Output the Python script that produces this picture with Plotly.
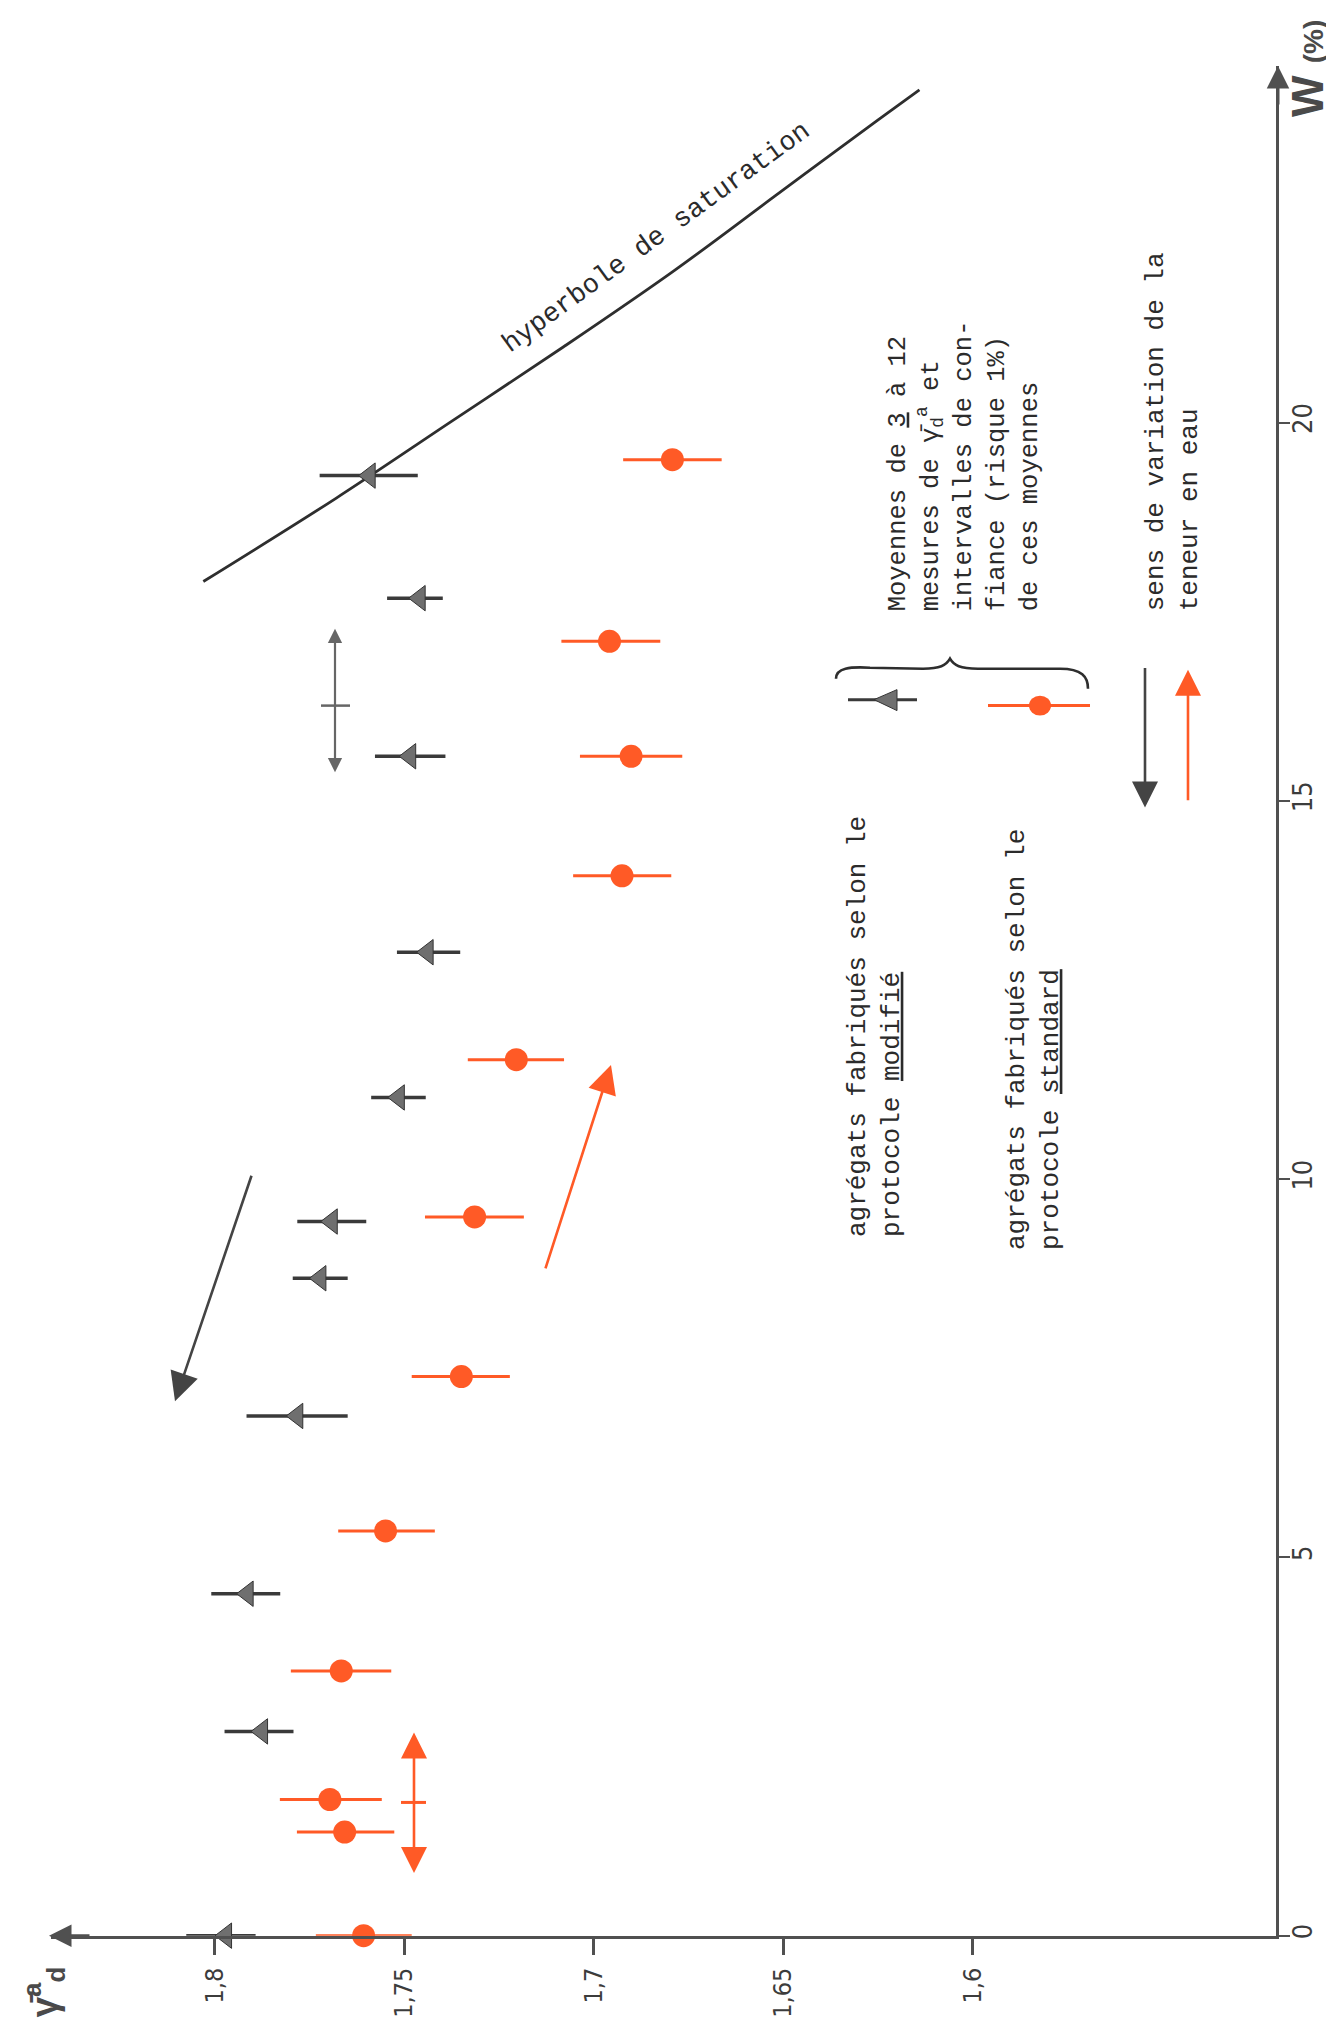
import plotly.graph_objects as go

# ---------------- data ----------------
# modified protocol (grey triangles): water content W (%), mean dry density and CI bounds
W_MOD = [0.0, 2.70, 4.52, 6.87, 8.69, 9.44, 11.08, 13.00, 15.59, 17.68, 19.30]
G_MOD = [1.7970, 1.7875, 1.7913, 1.7782, 1.7721, 1.7691, 1.7514, 1.7438, 1.7484, 1.7459, 1.7591]
G_MOD_HI = [1.8075, 1.7974, 1.8009, 1.7916, 1.7794, 1.7782, 1.7587, 1.7519, 1.7577, 1.7545, 1.7723]
G_MOD_LO = [1.7892, 1.7792, 1.7827, 1.7649, 1.7649, 1.7600, 1.7443, 1.7352, 1.7391, 1.7398, 1.7464]

# standard protocol (orange circles)
W_STD = [0.0, 1.37, 1.80, 3.50, 5.35, 7.39, 9.50, 11.58, 14.01, 15.59, 17.11, 19.51]
G_STD = [1.7607, 1.7657, 1.7696, 1.7666, 1.7549, 1.7349, 1.7314, 1.7204, 1.6925, 1.6901, 1.6958, 1.6792]
G_STD_HI = [1.7733, 1.7783, 1.7828, 1.7799, 1.7674, 1.7480, 1.7445, 1.7332, 1.7054, 1.7036, 1.7085, 1.6922]
G_STD_LO = [1.7480, 1.7526, 1.7559, 1.7534, 1.7419, 1.7221, 1.7184, 1.7078, 1.6795, 1.6766, 1.6824, 1.6662]

# saturation hyperbola
W_SAT = [17.9, 19.0, 20.0, 21.0, 22.0, 23.0, 24.0, 24.4]
G_SAT = [1.803, 1.768, 1.738, 1.708, 1.679, 1.652, 1.625, 1.614]

# axis ticks
G_TICKS = [1.8, 1.75, 1.7, 1.65, 1.6]
G_TICKTEXT = ["1,8", "1,75", "1,7", "1,65", "1,6"]
W_TICKS = [0, 5, 10, 15, 20]

# ---------------- styling ----------------
WPX, HPX = 1334, 2018
ORANGE = "#ff5a26"
GREY = "#6f6f6f"
DARK = "#3a3a3a"
AXC = "#505050"
MONO = "Liberation Mono, DejaVu Sans Mono, monospace"
NARROW = "Liberation Sans Narrow, DejaVu Sans Condensed, Roboto Condensed, Liberation Sans, sans-serif"


def P(x, y):
    return x / WPX, 1 - y / HPX


def err(mean, hi, lo):
    plus = [h - m for h, m in zip(hi, mean)]
    minus = [m - l for m, l in zip(mean, lo)]
    return plus, minus


fig = go.Figure()

# hyperbola
fig.add_trace(go.Scatter(x=G_SAT, y=W_SAT, mode="lines",
                         line=dict(color="#2e2e2e", width=2.8, shape="spline"),
                         showlegend=False, hoverinfo="skip"))

p, m = err(G_STD, G_STD_HI, G_STD_LO)
fig.add_trace(go.Scatter(x=G_STD, y=W_STD, mode="markers",
                         marker=dict(symbol="circle", size=23, color=ORANGE),
                         error_x=dict(type="data", array=p, arrayminus=m, symmetric=False,
                                      color=ORANGE, thickness=3, width=0),
                         cliponaxis=False, showlegend=False))

p, m = err(G_MOD, G_MOD_HI, G_MOD_LO)
fig.add_trace(go.Scatter(x=G_MOD, y=W_MOD, mode="markers",
                         marker=dict(symbol="triangle-left", size=22, color=GREY,
                                     line=dict(color="#333333", width=1)),
                         error_x=dict(type="data", array=p, arrayminus=m, symmetric=False,
                                      color=DARK, thickness=3.5, width=0),
                         cliponaxis=False, showlegend=False))

x0, x1 = 43, 1268          # pixel extent of gamma axis
y0, y1 = 1931.5, 58        # pixel extent of W axis
fig.update_layout(
    width=WPX, height=HPX, margin=dict(l=0, r=0, t=0, b=0),
    paper_bgcolor="white", plot_bgcolor="white",
    xaxis=dict(domain=[x0 / WPX, x1 / WPX], range=[1.8432, 1.5199],
               showgrid=False, zeroline=False, showline=True, linecolor=AXC, linewidth=3,
               tickvals=G_TICKS, ticktext=G_TICKTEXT, ticks="outside", ticklen=16,
               tickwidth=3, tickcolor=AXC, tickangle=-90, ticklabelstandoff=3,
               tickfont=dict(family=NARROW, size=25, color="#3c3c3c")),
    yaxis=dict(domain=[1 - y0 / HPX, 1 - y1 / HPX], range=[0, 24.716], side="right",
               showgrid=False, zeroline=False, showline=True, linecolor=AXC, linewidth=3,
               tickvals=W_TICKS, ticks="outside", ticklen=11, tickwidth=2, tickcolor=AXC,
               tickangle=-90, ticklabelstandoff=-10,
               tickfont=dict(family=NARROW, size=27, color="#3c3c3c")),
)

ann = []
shapes = []


def arrow(tip, tail, color, width=3, head=2, size=1.6, side="end"):
    x, y = P(*tip)
    ann.append(dict(x=x, y=y, xref="paper", yref="paper", text="", showarrow=True,
                    ax=tail[0] - tip[0], ay=tail[1] - tip[1], axref="pixel", ayref="pixel",
                    arrowcolor=color, arrowwidth=width, arrowhead=head, arrowsize=size,
                    startarrowhead=head, startarrowsize=size, arrowside=side))


def text(x, y, t, size=26, angle=-90, xanchor="center", yanchor="bottom", font=MONO,
         color="#2b2b2b", align="left"):
    px, py = P(x, y)
    ann.append(dict(x=px, y=py, xref="paper", yref="paper", text=t, showarrow=False,
                    textangle=angle, xanchor=xanchor, yanchor=yanchor, align=align,
                    font=dict(family=font, size=size, color=color)))


def line(a, b, color, width=3):
    (xa, ya), (xb, yb) = P(*a), P(*b)
    shapes.append(dict(type="line", xref="paper", yref="paper", x0=xa, y0=ya, x1=xb, y1=yb,
                       line=dict(color=color, width=width)))


# axis arrowheads
arrow((x0 - 2, y0), (x0 + 40, y0), AXC, width=3, head=2, size=1.5)
arrow((x1 + 2, y1), (x1 + 2, y1 + 40), AXC, width=3, head=2, size=1.5)

# axis titles
text(1326, 10, "<b>W</b> <span style='font-size:28px'><b>(%)</b></span>", size=44,
     xanchor="right", yanchor="top", font="Liberation Sans, Arial, sans-serif",
     color="#4a4a4a")
text(8, 1988, "<b>γ̄<sup>a</sup><sub>d</sub></b>", size=37, xanchor="left",
     yanchor="middle", font="Liberation Sans, Arial, sans-serif", color="#4a4a4a")

# direction arrows in the plot
arrow((167, 1396), (244, 1169), "#444444", width=2.6, head=2, size=2.2)
arrow((603, 1059), (537, 1264), ORANGE, width=2.6, head=2, size=2.2)
# double arrows
arrow((327, 622), (327, 767), "#666666", width=2.2, head=2, size=1.3, side="end+start")
line((313, 699), (342, 699), "#666666", 2.5)
arrow((406, 1728), (406, 1870), ORANGE, width=2.6, head=2, size=2.0, side="end+start")
line((393, 1798), (418, 1798), ORANGE, 3)

# hyperbola label
text(648, 230, "hyperbole de saturation", size=27, angle=-36, yanchor="middle")

# protocol texts
text(867, 1234, "agrégats fabriqués selon le<br>protocole <u>modifié</u>")
text(1026, 1247, "agrégats fabriqués selon le<br>protocole <u>standard</u>")
text(957, 607, "Moyennes de <u>3</u> à 12<br>mesures de γ̄<sub>d</sub><sup>a</sup> et<br>"
     "intervalles de con-<br>fiance (risque 1%)<br>de ces moyennes", size=25.5)
text(1165, 607, "sens de variation de la<br>teneur en eau")

# legend keys
line((840, 693), (909, 693), DARK, 3)
a, b, c = P(866, 693), P(889, 683), P(889, 704)
shapes.append(dict(type="path", xref="paper", yref="paper",
                   path=f"M {a[0]},{a[1]} L {b[0]},{b[1]} L {c[0]},{c[1]} Z",
                   fillcolor=GREY, line=dict(color="#333333", width=1)))
line((980, 699), (1082, 699), ORANGE, 3)
ca, cb = P(1021, 689), P(1043, 709)
shapes.append(dict(type="circle", xref="paper", yref="paper", x0=ca[0], y0=cb[1],
                   x1=cb[0], y1=ca[1], fillcolor=ORANGE, line=dict(color=ORANGE, width=0)))

# brace
pts = [(828, 672), (828, 661), (842, 660), (862, 661), (915, 662), (932, 662), (938, 659),
       (942, 652), (946, 659), (952, 662), (970, 662), (1052, 662), (1074, 662), (1080, 670),
       (1080, 682)]
q = [P(*t) for t in pts]
path = f"M {q[0][0]},{q[0][1]} C {q[1][0]},{q[1][1]} {q[2][0]},{q[2][1]} {q[3][0]},{q[3][1]} " \
       f"L {q[4][0]},{q[4][1]} C {q[5][0]},{q[5][1]} {q[6][0]},{q[6][1]} {q[7][0]},{q[7][1]} " \
       f"C {q[8][0]},{q[8][1]} {q[9][0]},{q[9][1]} {q[10][0]},{q[10][1]} " \
       f"L {q[11][0]},{q[11][1]} C {q[12][0]},{q[12][1]} {q[13][0]},{q[13][1]} {q[14][0]},{q[14][1]}"
shapes.append(dict(type="path", xref="paper", yref="paper", path=path,
                   line=dict(color="#2e2e2e", width=2.6)))

# legend direction arrows
arrow((1137, 801), (1137, 660), "#444444", width=2.6, head=2, size=2.0)
arrow((1180, 663), (1180, 795), ORANGE, width=2.6, head=2, size=2.0)

fig.update_layout(annotations=ann, shapes=shapes)
fig.write_html("out.html")
